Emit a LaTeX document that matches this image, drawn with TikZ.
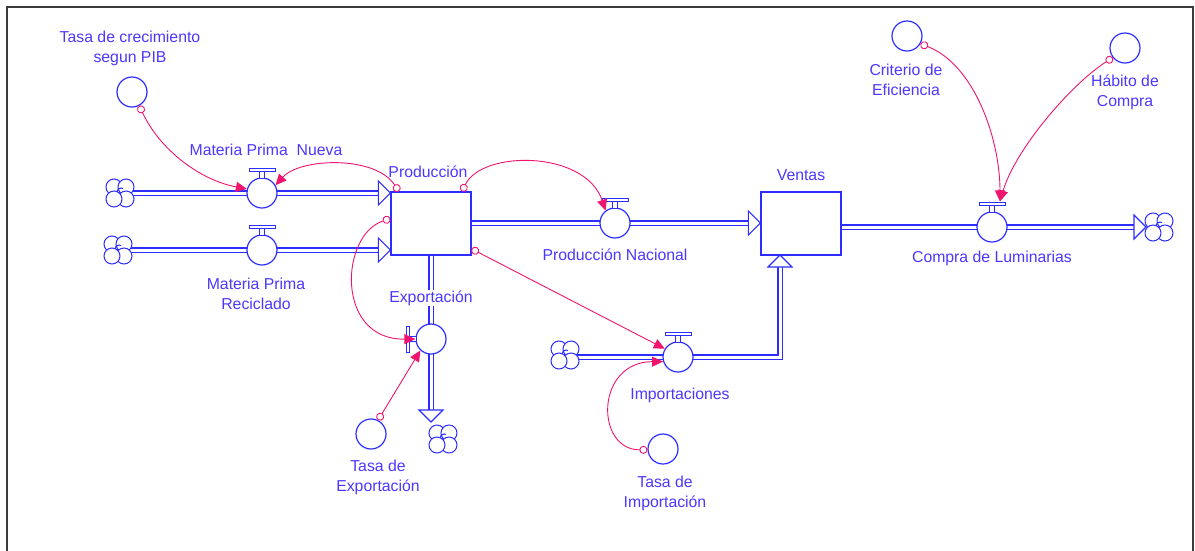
\documentclass[tikz,border=0pt]{standalone}
\usepackage{fontspec}
\setmainfont{Liberation Sans}
\usetikzlibrary{arrows.meta,backgrounds}
\definecolor{sdblue}{RGB}{45,45,255}
\definecolor{sdtext}{RGB}{75,55,255}
\definecolor{sdpink}{RGB}{240,20,110}
\definecolor{framegray}{RGB}{60,60,60}
\tikzset{
  lbl/.style={text=sdtext, font=\fontsize{15.8}{20}\selectfont, align=center, inner sep=1pt},
  stock/.style={draw=sdblue, line width=1.2pt, fill=white, minimum width=80pt, minimum height=63pt, inner sep=0pt},
  valve/.style={circle, draw=sdblue, line width=1.2pt, fill=white, minimum size=30pt, inner sep=0pt},
  aux/.style={circle, draw=sdblue, line width=1.2pt, fill=white, minimum size=30pt, inner sep=0pt},
  cloudpt/.style={circle, minimum size=28pt, inner sep=0pt},
  pipe/.style={draw=sdblue, line width=1.2pt, double=white, double distance=3pt},
  link/.style={draw=sdpink, line width=0.9pt, {Circle[open,length=8pt,width=8pt]}-{Triangle[length=11pt,width=10pt]}},
  cloud/.pic={
    \filldraw[draw=sdblue, fill=white, line width=1pt] (-6,-6) circle (8);
    \filldraw[draw=sdblue, fill=white, line width=1pt] (6,-6) circle (8);
    \filldraw[draw=sdblue, fill=white, line width=1pt] (6,6) circle (8);
    \filldraw[draw=sdblue, fill=white, line width=1pt] (-6,6) circle (8);
    \draw[sdblue, line width=1pt] (-3,-1) arc (180:300:4);
  },
  phead/.pic={
    \filldraw[draw=sdblue, fill=white, line width=1.1pt] (-12,-12) -- (0,0) -- (-12,12) -- cycle;
  },
  vtop/.pic={
    \filldraw[draw=sdblue, fill=white, line width=1pt] (-2.8,-15) rectangle (2.8,-22);
    \filldraw[draw=sdblue, fill=white, line width=1pt] (-13,-22) rectangle (13,-25);
  }
}
\begin{document}
\begin{tikzpicture}[x=1pt,y=-1pt]
\useasboundingbox (0,0) rectangle (1195,550);
% frame
\draw[framegray, line width=1.6pt] (7,551) -- (7,7) -- (1193,7) -- (1193,551);

% stocks
\node[stock] (prod) at (431,223.5) {};
\node[stock] (ventas) at (801,223.5) {};
% valves
\node[valve] (vmpn) at (262,193) {};
\node[valve] (vmpr) at (262,250) {};
\node[valve] (vpn) at (615,223) {};
\node[valve] (vcl) at (992,227) {};
\node[valve] (vexp) at (431,339) {};
\node[valve] (vimp) at (678,357) {};
\pic at (vmpn) {vtop};
\pic at (vmpr) {vtop};
\pic at (vpn) {vtop};
\pic at (vcl) {vtop};
\pic at (vimp) {vtop};
\pic[rotate=90] at (vexp) {vtop};
% clouds
\node[cloudpt] (c1) at (120,193) {};
\node[cloudpt] (c2) at (118,250) {};
\node[cloudpt] (c3) at (1159,227) {};
\node[cloudpt] (c4) at (443,439) {};
\node[cloudpt] (c5) at (565,355) {};
\coordinate (exptip) at (431,422);
\coordinate (impin) at (780,255);
\coordinate (cltip) at (1146,227);

% pipes
\begin{scope}[on background layer]
\draw[pipe, shorten >=11pt] (c1.center) -- (prod.west |- vmpn);
\draw[pipe, shorten >=11pt] (c2.center) -- (prod.west |- vmpr);
\draw[pipe, shorten >=11pt] (prod.east |- vpn) -- (ventas.west |- vpn);
\draw[pipe, shorten >=11pt] (ventas.east |- vcl) -- (cltip);
\draw[pipe, shorten >=11pt] (prod.south) -- (vexp.center) -- (exptip);
\draw[pipe, shorten >=11pt] (c5.center |- vimp) -- (vimp.center) -| (impin);
\end{scope}
\pic at (prod.west |- vmpn) {phead};
\pic at (prod.west |- vmpr) {phead};
\pic at (ventas.west |- vpn) {phead};
\pic at (cltip) {phead};
\pic[rotate=-90] at (exptip) {phead};
\pic[rotate=90] at (impin) {phead};
\pic at (c1) {cloud};
\pic at (c2) {cloud};
\pic at (c3) {cloud};
\pic at (c4) {cloud};
\pic at (c5) {cloud};

% auxiliaries
\node[aux] (pib) at (132,92) {};
\node[aux] (texp) at (371,434) {};
\node[aux] (timp) at (663,449) {};
\node[aux] (crit) at (907,36) {};
\node[aux] (hab) at (1125,48) {};

% labels
\node[lbl] (lpib) at (130,48) {Tasa de crecimiento\\segun PIB};
\node[lbl] (lmpn) at (266,150) {Materia Prima\ \ Nueva};
\node[lbl] (lprod) at (428,172) {Producción};
\node[lbl] (lmpr) at (256,294) {Materia Prima\\Reciclado};
\node[lbl] (lpn) at (615,255) {Producción Nacional};
\node[lbl, fill=white] (lexp) at (431,298) {Exportación};
\node[lbl] (limp) at (680,395) {Importaciones};
\node[lbl] (lven) at (801,175) {Ventas};
\node[lbl] (lcl) at (992,258) {Compra de Luminarias};
\node[lbl] (ltexp) at (378,477) {Tasa de\\Exportación};
\node[lbl] (ltimp) at (665,493) {Tasa de\\Importación};
\node[lbl] (lcrit) at (906,80) {Criterio de\\Eficiencia};
\node[lbl] (lhab) at (1125,92) {Hábito de\\Compra};

% links
\draw[link] (pib.-62) .. controls (160,150) and (200,180) .. (vmpn.165);
\draw[link] (prod.135) .. controls (375,155) and (300,158) .. (vmpn.30);
\draw[link] (prod.173) .. controls (340,235) and (335,340) .. (vexp.180);
\draw[link] (prod.46) .. controls (482,150) and (585,150) .. (vpn.127);
\draw[link] (prod.-32) -- (vimp.148);
\draw[link] (texp.63) -- (vexp.227);
\draw[link] (timp.183) .. controls (595,450) and (595,362) .. (vimp.197);
\draw[link] (crit.-30) .. controls (975,65) and (1000,140) .. ([xshift=8pt,yshift=10pt]vcl.north);
\draw[link] (hab.218) .. controls (1070,85) and (1015,150) .. ([xshift=8pt,yshift=10pt]vcl.north);
\end{tikzpicture}
\end{document}
